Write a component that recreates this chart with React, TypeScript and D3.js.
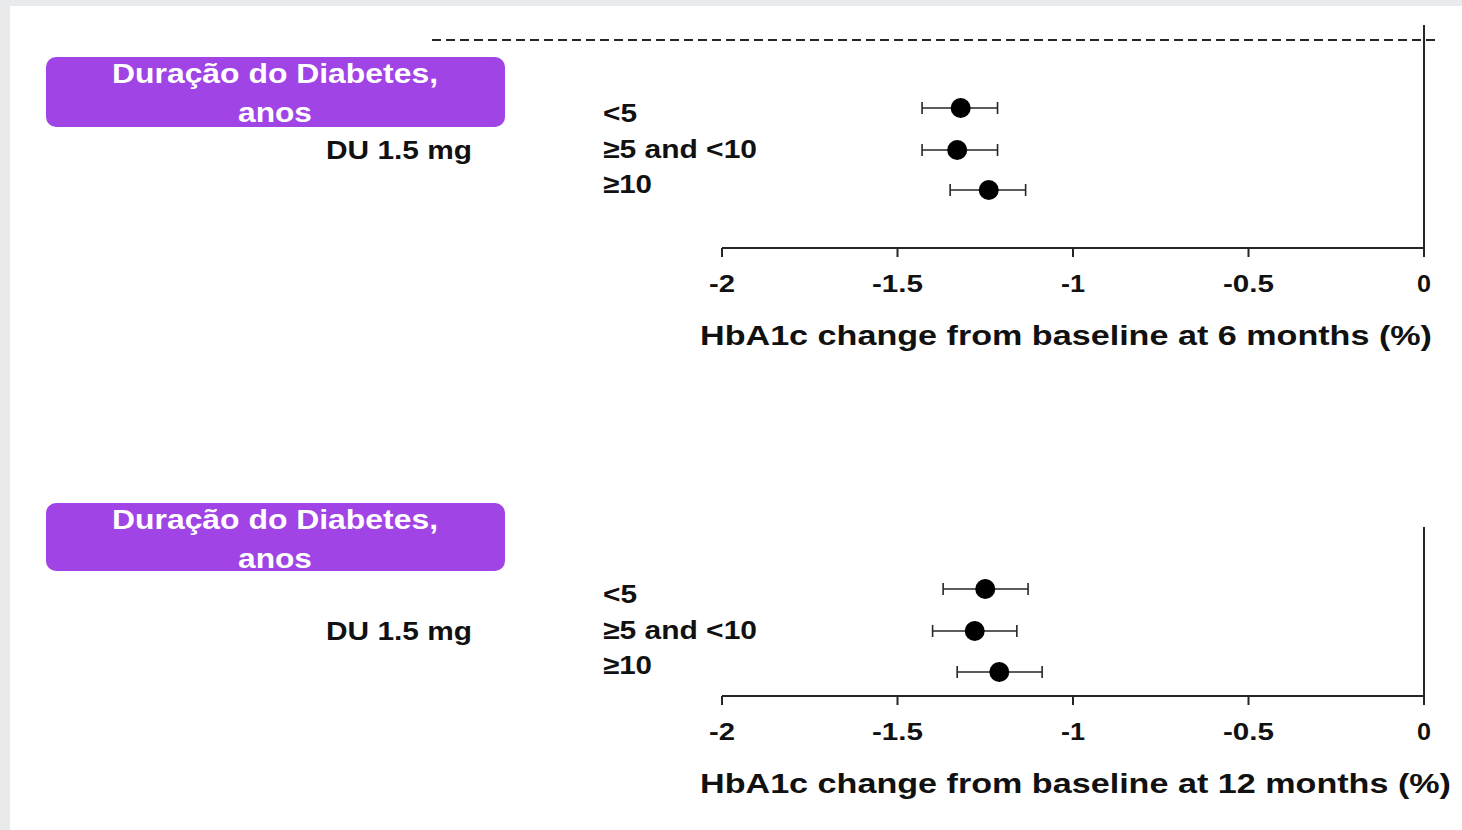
import React from "react";
import * as d3 from "d3";

const categories = ["<5", "≥5 and <10", "≥10"];
const est6 = [-1.32, -1.33, -1.24];
const lo6 = [-1.43, -1.43, -1.35];
const hi6 = [-1.215, -1.215, -1.135];
const est12 = [-1.25, -1.28, -1.21];
const lo12 = [-1.37, -1.40, -1.33];
const hi12 = [-1.128, -1.16, -1.088];
const tickValues = [-2, -1.5, -1, -0.5, 0];
const tickLabels = ["-2", "-1.5", "-1", "-0.5", "0"];
const titles = [
  "HbA1c change from baseline at 6 months (%)",
  "HbA1c change from baseline at 12 months (%)",
];
const boxTitle = ["Duração do Diabetes,", "anos"];
const treatment = "DU 1.5 mg";

// rendered widths (px) of the stretched text in the reference
const categoryWidths = [34, 154, 49];
const tickWidths = [26, 51, 24, 51, 14];
const boxTitleWidths = [326, 74];
const treatmentWidth = 146;

const FONT = "Arial, 'Liberation Sans', sans-serif";

type PanelProps = {
  est: number[];
  lo: number[];
  hi: number[];
  title: string;
  titleWidth: number;
  showDash: boolean;
  axisY: number;
  vTop: number;
  pointYs: number[];
  labelYs: number[];
  boxY: number;
  boxH: number;
  duY: number;
};

function Panel(p: PanelProps) {
  const x = d3.scaleLinear().domain([-2, 0]).range([722, 1424]);
  const ink = "#111";
  const line = "#262626";
  return (
    <g>
      <rect x={46} y={p.boxY} width={459} height={p.boxH} rx={10} fill="#a044e6" />
      <text x={275} y={p.boxY + 26} textAnchor="middle" fill="#fff" fontFamily={FONT} fontWeight="bold" fontSize={28}
        textLength={boxTitleWidths[0]} lengthAdjust="spacingAndGlyphs">
        {boxTitle[0]}
      </text>
      <text x={275} y={p.boxY + 65} textAnchor="middle" fill="#fff" fontFamily={FONT} fontWeight="bold" fontSize={28}
        textLength={boxTitleWidths[1]} lengthAdjust="spacingAndGlyphs">
        {boxTitle[1]}
      </text>
      <text x={472} y={p.duY} textAnchor="end" fill={ink} fontFamily={FONT} fontWeight="bold" fontSize={26}
        textLength={treatmentWidth} lengthAdjust="spacingAndGlyphs">
        {treatment}
      </text>
      {categories.map((c, i) => (
        <text key={c} x={603} y={p.labelYs[i]} fill={ink} fontFamily={FONT} fontWeight="bold" fontSize={26}
          textLength={categoryWidths[i]} lengthAdjust="spacingAndGlyphs">
          {c}
        </text>
      ))}
      {p.showDash && (
        <line x1={432} x2={1437} y1={40} y2={40} stroke={line} strokeWidth={2} strokeDasharray="9,5" />
      )}
      <line x1={x(0)} x2={x(0)} y1={p.vTop} y2={p.axisY + 8} stroke={line} strokeWidth={2} />
      <line x1={x(-2)} x2={x(0)} y1={p.axisY} y2={p.axisY} stroke={line} strokeWidth={2} />
      {tickValues.map((t, i) => (
        <g key={t}>
          <line x1={x(t)} x2={x(t)} y1={p.axisY} y2={p.axisY + 9} stroke={line} strokeWidth={2} />
          <text x={x(t)} y={p.axisY + 44} textAnchor="middle" fill={ink} fontFamily={FONT} fontWeight="bold" fontSize={24}
            textLength={tickWidths[i]} lengthAdjust="spacingAndGlyphs">
            {tickLabels[i]}
          </text>
        </g>
      ))}
      <text x={700} y={p.axisY + 97} fill={ink} fontFamily={FONT} fontWeight="bold" fontSize={27}
        textLength={p.titleWidth} lengthAdjust="spacingAndGlyphs">
        {p.title}
      </text>
      {p.est.map((v, i) => (
        <g key={i}>
          <line x1={x(p.lo[i])} x2={x(p.hi[i])} y1={p.pointYs[i]} y2={p.pointYs[i]} stroke={line} strokeWidth={1.6} />
          <line x1={x(p.lo[i])} x2={x(p.lo[i])} y1={p.pointYs[i] - 6} y2={p.pointYs[i] + 6} stroke={line} strokeWidth={1.6} />
          <line x1={x(p.hi[i])} x2={x(p.hi[i])} y1={p.pointYs[i] - 6} y2={p.pointYs[i] + 6} stroke={line} strokeWidth={1.6} />
          <circle cx={x(v)} cy={p.pointYs[i]} r={10} fill="#000" />
        </g>
      ))}
    </g>
  );
}

export default function App() {
  return (
    <svg width={1462} height={830} style={{ position: "absolute", left: 0, top: 0, display: "block" }}>
      <rect x={0} y={0} width={1462} height={830} fill="#e9eaec" />
      <rect x={10} y={6} width={1452} height={824} fill="#ffffff" />
      <Panel
        est={est6}
        lo={lo6}
        hi={hi6}
        title={titles[0]}
        titleWidth={732}
        showDash={true}
        axisY={248}
        vTop={25}
        pointYs={[108, 150, 190]}
        labelYs={[122, 158, 193]}
        boxY={57}
        boxH={70}
        duY={159}
      />
      <Panel
        est={est12}
        lo={lo12}
        hi={hi12}
        title={titles[1]}
        titleWidth={751}
        showDash={false}
        axisY={696}
        vTop={527}
        pointYs={[589, 631, 672]}
        labelYs={[603, 639, 674]}
        boxY={503}
        boxH={68}
        duY={640}
      />
    </svg>
  );
}
